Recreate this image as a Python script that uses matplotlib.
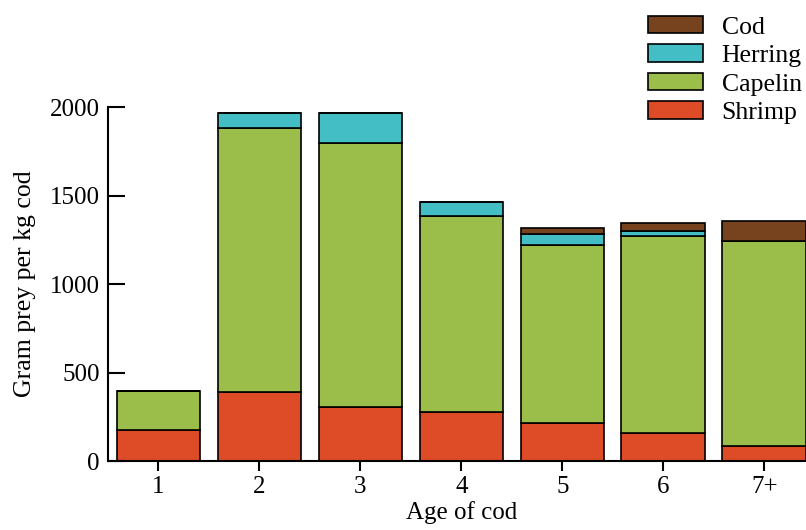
import matplotlib.pyplot as plt
import numpy as np

plt.rcParams['font.family'] = ['Liberation Serif', 'DejaVu Serif']

# data
ages = ["1", "2", "3", "4", "5", "6", "7+"]
shrimp = [175, 392, 305, 278, 218, 158, 83]
capelin = [222, 1488, 1490, 1105, 1004, 1113, 1158]
herring = [0, 85, 172, 78, 60, 30, 0]
cod = [0, 0, 0, 0, 32, 42, 117]

series = [("Shrimp", shrimp, "#DD4B27"),
          ("Capelin", capelin, "#9BBE4B"),
          ("Herring", herring, "#43BEC4"),
          ("Cod", cod, "#77431F")]

fig = plt.figure(figsize=(8.06, 5.30), dpi=100)
ax = fig.add_axes([0.134, 0.130, 0.877, 0.668])

x = np.arange(1, len(ages) + 1)
bottom = np.zeros(len(ages))
handles = []
for name, vals, col in series:
    vals = np.array(vals, dtype=float)
    b = ax.bar(x, vals, width=0.83, bottom=bottom, color=col,
               edgecolor="black", linewidth=1.2, label=name)
    handles.append(b)
    bottom += vals

ax.set_xlim(0.5, 7.5)
ax.set_ylim(0, 2000)
ax.set_yticks([0, 500, 1000, 1500, 2000])
ax.set_xticks(x)
ax.set_xticklabels(ages)

for s in ["top", "right"]:
    ax.spines[s].set_visible(False)
ax.spines["left"].set_linewidth(1.5)
ax.spines["bottom"].set_linewidth(1.5)
ax.tick_params(axis="y", direction="in", length=12, width=1.5, labelsize=18, pad=6)
ax.tick_params(axis="x", direction="out", length=7, width=1.5, labelsize=18, pad=4)

ax.set_ylabel("Gram prey per kg cod", fontsize=18.5, labelpad=10)
ax.set_xlabel("Age of cod", fontsize=18, labelpad=2)

fig.legend(handles[::-1], [s[0] for s in series][::-1],
           loc="upper left", bbox_to_anchor=(0.778, 1.009),
           frameon=False, fontsize=18.5, handlelength=2.14, handleheight=0.68,
           labelspacing=0.22, handletextpad=0.74, borderaxespad=0.4)

fig.savefig("out.png", dpi=100)
